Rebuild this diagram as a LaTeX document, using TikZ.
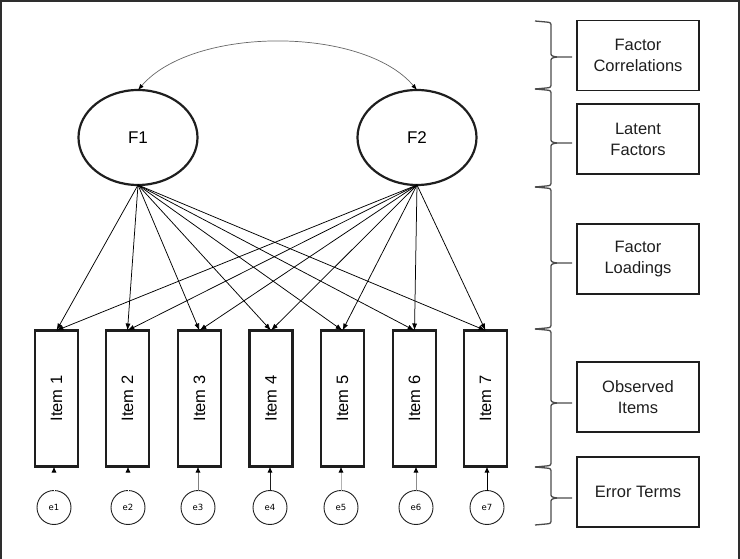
\documentclass[tikz,border=0pt]{standalone}
\usepackage{fontspec}
\usepackage{graphicx}
\setmainfont{Liberation Sans}
\newfontfamily\errfont{DejaVu Sans}
\usetikzlibrary{shapes.geometric,arrows.meta}

\definecolor{framegray}{HTML}{2E2E2E}
\definecolor{inkgray}{HTML}{1E1E1E}

\tikzset{
  factor/.style={draw=inkgray, line width=2.2pt, ellipse, minimum width=119pt,
    minimum height=95pt, inner sep=0pt, outer sep=0pt,
    font=\fontsize{17}{20}\selectfont},
  itembox/.style={draw=inkgray, line width=2.6pt, rectangle, minimum width=43pt,
    minimum height=136pt, inner sep=0pt, outer sep=0pt,
    font=\fontsize{16.5}{20}\selectfont},
  errnode/.style={draw=inkgray, line width=0.9pt, circle, minimum size=34pt,
    inner sep=0pt, outer sep=0pt, font=\errfont\fontsize{8.5}{10}\selectfont},
  legendbox/.style={draw=inkgray, line width=1.1pt, rectangle, minimum width=122pt,
    minimum height=70pt, inner sep=0pt, outer sep=0pt, align=center,
    font=\fontsize{16.5}{21}\selectfont, text=inkgray},
  load/.style={draw=black, line width=0.75pt, -{Latex[length=7pt,width=5pt]}},
  corr/.style={draw=gray!80!black, line width=0.7pt,
    {Latex[length=6pt,width=4.5pt,color=black]}-{Latex[length=6pt,width=4.5pt,color=black]}},
  errarrow/.style={line width=1pt, -{Latex[length=6pt,width=5pt,color=black]}},
  bracket/.style={draw=inkgray!80, line width=1.3pt, line join=round},
}

% a right-pointing curly brace: left ends at x=535, spine at x=551, tip to x=572
% #1 = top end, #2 = tip height, #3 = bottom end
\newcommand{\levelbrace}[3]{%
  \draw[bracket] (535,#1) -- (546,#1+1)
    .. controls (551,#1+1.5) .. (551,#1+6) -- (551,#2-5)
    .. controls (551,#2-1) .. (557,#2) -- (572,#2);
  \draw[bracket] (557,#2) .. controls (551,#2+1) .. (551,#2+5)
    -- (551,#3-6) .. controls (551,#3-1.5) .. (546,#3-1) -- (535,#3);
}

\begin{document}
\begin{tikzpicture}[x=1pt, y=-1pt]
  \useasboundingbox (0,0) rectangle (740,559);
  % open frame around the figure
  \draw[framegray, line width=2.4pt] (1,559) -- (1,1) -- (739,1) -- (739,559);

  % latent factors
  \node[factor] (F1) at (138,137.5) {F1};
  \node[factor] (F2) at (417,137.5) {F2};

  % observed items
  \foreach \i/\x in {1/56.5, 2/127.5, 3/199.5, 4/271, 5/342.5, 6/414.5, 7/485.5}
    \node[itembox] (I\i) at (\x,398.5) {\rotatebox{90}{Item \i}};

  % error terms
  \foreach \i/\x in {1/54, 2/128, 3/198, 4/270, 5/341, 6/416, 7/487}
    \node[errnode] (e\i) at (\x,507.5) {e\i};

  % factor correlation
  \draw[corr] (F1.north) .. controls (193,26) and (363,26) .. (F2.north);

  % factor loadings
  \foreach \i in {1,...,7} {
    \draw[load] (F1.south) -- (I\i.north);
    \draw[load] (F2.south) -- (I\i.north);
  }

  % error paths
  \draw[errarrow, white]           (e1.north) -- (e1.north |- I1.south);
  \draw[errarrow, white]           (e2.north) -- (e2.north |- I2.south);
  \draw[errarrow, gray]            (e3.north) -- (e3.north |- I3.south);
  \draw[errarrow, inkgray]         (e4.north) -- (e4.north |- I4.south);
  \draw[errarrow, gray!60]         (e5.north) -- (e5.north |- I5.south);
  \draw[errarrow, gray!90]         (e6.north) -- (e6.north |- I6.south);
  \draw[errarrow, black]           (e7.north) -- (e7.north |- I7.south);

  % legend boxes
  \node[legendbox] (L1) at (638,55.5) {Factor\\Correlations};
  \node[legendbox] (L2) at (638,139)  {Latent\\Factors};
  \node[legendbox] (L3) at (638,259)  {Factor\\Loadings};
  \node[legendbox] (L4) at (638,397)  {Observed\\Items};
  \node[legendbox] (L5) at (638,492)  {Error Terms};

  % braces grouping the levels
  \levelbrace{21}{57}{89}
  \levelbrace{89}{143}{187}
  \levelbrace{187}{263}{329}
  \levelbrace{329}{403}{467}
  \levelbrace{467}{498}{525}
\end{tikzpicture}
\end{document}
